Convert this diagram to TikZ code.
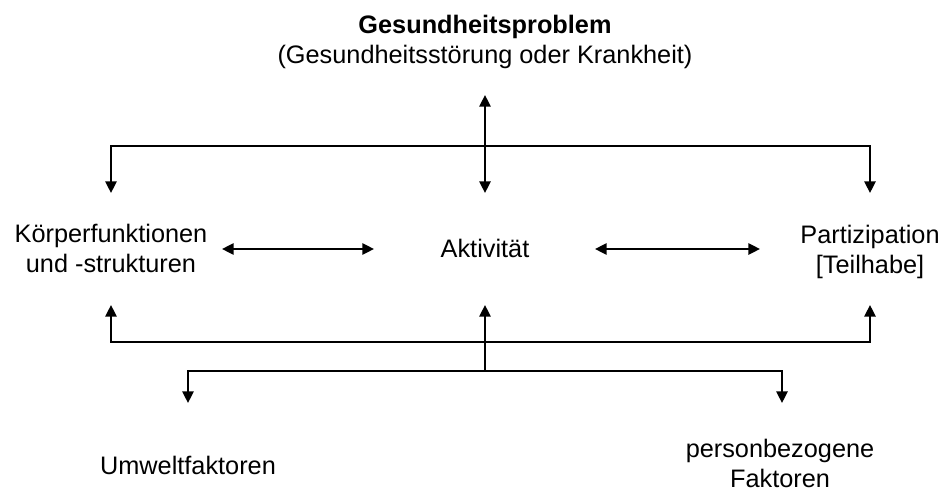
\documentclass[tikz,border=0pt]{standalone}
\usepackage{fontspec}
\setmainfont{Liberation Sans}
\usetikzlibrary{arrows.meta,positioning}

\begin{document}
\begin{tikzpicture}[
  x=0.5pt, y=-0.5pt,
  font=\fontsize{12.65}{15}\selectfont,
  >={Triangle[length=5.8pt, width=5.6pt]},
  lbl/.style={align=center, inner sep=0pt},
  link/.style={line width=1.1pt},
]
\useasboundingbox (0,0) rectangle (941,492);

% texts
\node[lbl] (problem)       at (485,42.4)  {\textbf{Gesundheitsproblem}\\(Gesundheitsstörung oder Krankheit)};
\node[lbl] (body)          at (111,248.8) {Körperfunktionen\\und -strukturen};
\node[lbl] (activity)      at (485,248.8) {Aktivität};
\node[lbl] (participation) at (870,251.5) {Partizipation\\{[Teilhabe]}};
\node[lbl] (environment)   at (188,465.8) {Umweltfaktoren};
\node[lbl] (personal)      at (780,463.5) {personbezogene\\Faktoren};

% junctions
\coordinate (p0)   at (485,95);
\coordinate (hub1) at (485,146);
\coordinate (a0)   at (485,193);
\coordinate (b0)   at (111,193);
\coordinate (c0)   at (870,193);
\coordinate (b1)   at (111,305);
\coordinate (a1)   at (485,305);
\coordinate (c1)   at (870,305);
\coordinate (hub2) at (485,342);
\coordinate (hub3) at (485,371);
\coordinate (e0)   at (188,403);
\coordinate (f0)   at (782,403);
\coordinate (ba-l) at (222,249);
\coordinate (ba-r) at (374,249);
\coordinate (ap-l) at (595,249);
\coordinate (ap-r) at (760,249);

\draw[link, <->] (p0) -- (a0);
\draw[link, <->] (b0) |- (hub1) -| (c0);
\draw[link, <->] (ba-l) -- (ba-r);
\draw[link, <->] (ap-l) -- (ap-r);
\draw[link, <->] (b1) |- (hub2) -| (c1);
\draw[link, ->]  (hub3) -- (a1);
\draw[link, <->] (e0) |- (hub3) -| (f0);

\end{tikzpicture}
\end{document}
